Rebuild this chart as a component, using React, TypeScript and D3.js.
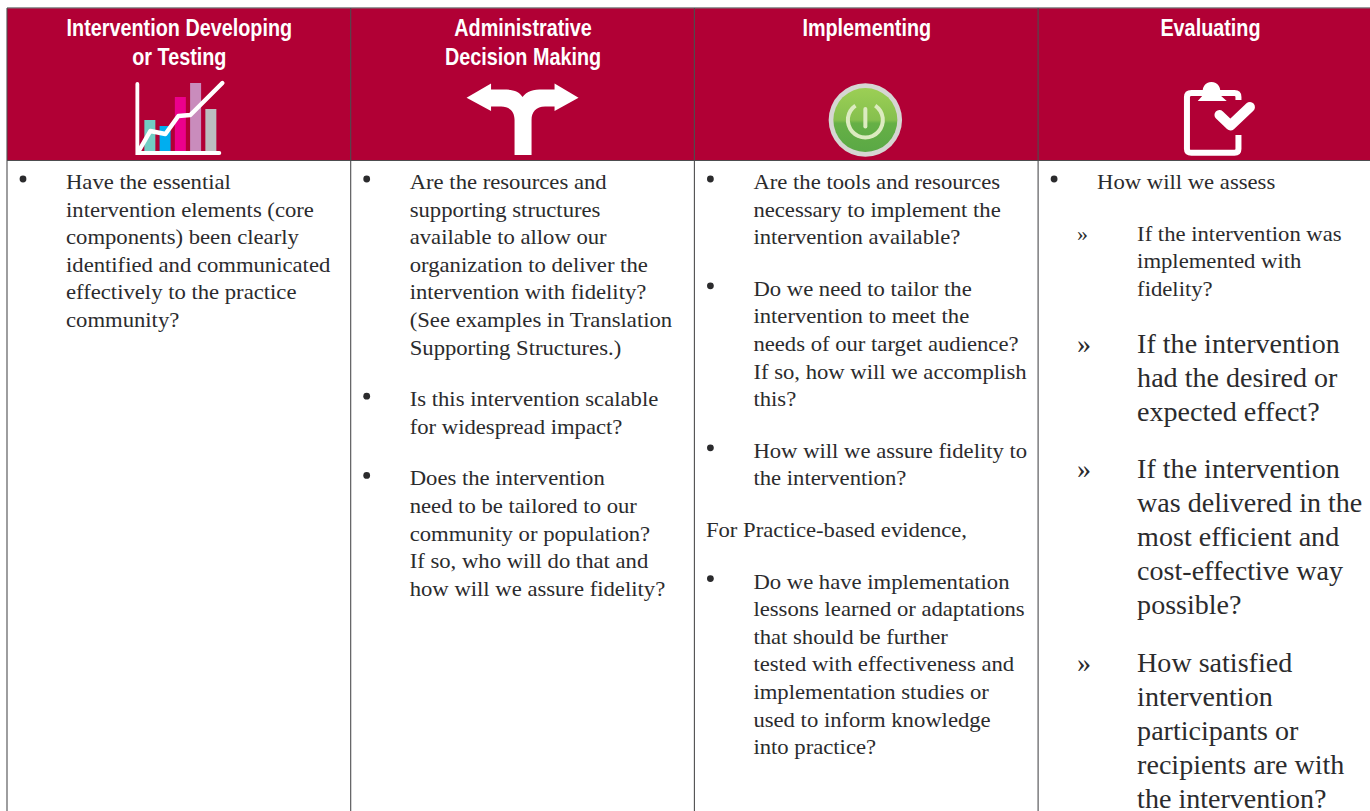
import React from "react";
import * as d3 from "d3";

const width = 1370, height = 811;

const headers = [
  ["Intervention Developing", "or Testing"],
  ["Administrative", "Decision Making"],
  ["Implementing"],
  ["Evaluating"],
];

// bullet = round bullet, plain = no marker, sub = small », big = large »
const col1 = [
  { kind: "bullet", lines: ["Have the essential", "intervention elements (core", "components) been clearly", "identified and communicated", "effectively to the practice", "community?"] },
];
const col2 = [
  { kind: "bullet", lines: ["Are the resources and", "supporting structures", "available to allow our", "organization to deliver the", "intervention with fidelity?", "(See examples in Translation", "Supporting Structures.)"] },
  { kind: "bullet", lines: ["Is this intervention scalable", "for widespread impact?"] },
  { kind: "bullet", lines: ["Does the intervention", "need to be tailored to our", "community or population?", "If so, who will do that and", "how will we assure fidelity?"] },
];
const col3 = [
  { kind: "bullet", lines: ["Are the tools and resources", "necessary to implement the", "intervention available?"] },
  { kind: "bullet", lines: ["Do we need to tailor the", "intervention to meet the", "needs of our target audience?", "If so, how will we accomplish", "this?"] },
  { kind: "bullet", lines: ["How will we assure fidelity to", "the intervention?"] },
  { kind: "plain", lines: ["For Practice-based evidence,"] },
  { kind: "bullet", lines: ["Do we have implementation", "lessons learned or adaptations", "that should be further", "tested with effectiveness and", "implementation studies or", "used to inform knowledge", "into practice?"] },
];
const col4 = [
  { kind: "bullet", lines: ["How will we assess"] },
  { kind: "sub", lines: ["If the intervention was", "implemented with", "fidelity?"] },
  { kind: "big", lines: ["If the intervention", "had the desired or", "expected effect?"] },
  { kind: "big", lines: ["If the intervention", "was delivered in the", "most efficient and", "cost-effective way", "possible?"] },
  { kind: "big", lines: ["How satisfied", "intervention", "participants or", "recipients are with", "the intervention?"] },
];
const columns = [col1, col2, col3, col4];

// small chart icon in the first header
const iconBars = [31, 25, 54, 68, 42];
const iconBarColors = ["#72cdc4", "#00aeef", "#ec008c", "#c98cbc", "#bcbec0"];
const iconLine = [1, 20, 17, 35, 36, 68];
const iconLineX = [0, 0.66, 1.57, 2.35, 3.07, 5];

const RED = "#b10035";
const LINE = "#4d4d4f";
const TEXT = "#2b2b2d";
const BODY_FONT = "'Liberation Serif', serif";

const styles: Record<string, any> = {
  bullet: { size: 21.5, stretch: 1.055, step: 27.6, gapAfter: 24 },
  plain: { size: 21.5, stretch: 1.055, step: 27.6, gapAfter: 24 },
  sub: { size: 21.5, stretch: 1.055, step: 27.8, gapAfter: 28.5 },
  big: { size: 27.8, stretch: 1.01, step: 34, gapAfter: 23.6 },
};

function Column({ blocks, x }: { blocks: any[]; x: number }) {
  let y = 189;
  const out: React.ReactNode[] = [];
  blocks.forEach((b, i) => {
    const s = styles[b.kind];
    const nested = b.kind === "sub" || b.kind === "big";
    const textX = nested ? x + 99 : b.kind === "plain" ? x + 11.5 : x + 59;
    if (b.kind === "bullet") out.push(<circle key={"m" + i} cx={x + 16} cy={y - 10} r={3.4} fill={TEXT} />);
    if (nested)
      out.push(<text key={"m" + i} x={x + 39} y={y} fontSize={b.kind === "big" ? 28 : 22} fill={TEXT}>»</text>);
    b.lines.forEach((l: string, j: number) => {
      out.push(
        <text key={i + "-" + j} transform={`translate(${textX},${y}) scale(${s.stretch},1)`} fontSize={s.size} fill={TEXT}>
          {l}
        </text>
      );
      y += s.step;
    });
    y += s.gapAfter;
  });
  return <g fontFamily={BODY_FONT}>{out}</g>;
}

function ChartIcon({ cx }: { cx: number }) {
  const x = d3.scaleBand<number>().domain(d3.range(iconBars.length)).range([cx - 35, cx + 37]).paddingInner(0.279);
  const y = d3.scaleLinear().domain([0, 68]).range([151, 83]);
  const lineX = d3.scaleLinear().domain([0, 5]).range([cx - 40, cx + 43]);
  const path = d3.line<number>().x((_, i) => lineX(iconLineX[i])).y((d) => y(d))(iconLine);
  return (
    <g>
      {iconBars.map((v, i) => (
        <rect key={i} x={x(i)} y={y(v)} width={x.bandwidth()} height={151 - y(v)} fill={iconBarColors[i]} />
      ))}
      <path d={path!} fill="none" stroke="#fff" strokeWidth={4.4} strokeLinecap="round" strokeLinejoin="round" />
      <path d={`M${cx - 42},84V153H${cx + 40}`} fill="none" stroke="#fff" strokeWidth={3.8} strokeLinecap="round" />
    </g>
  );
}

function ArrowIcon({ cx }: { cx: number }) {
  return (
    <path
      transform={`translate(${cx},0)`}
      fill="#fff"
      d="M-56.5,97.7L-32,83.4V89.5H-20C-10,89.5 -4,91 -0.5,97C4,91 10,89.5 20,89.5H31.5V83.4L55.5,97.7L31.5,111V106.5H22C13,106.5 8.5,112 8.5,120V155H-8.5V120C-8.5,112 -13,106.5 -22,106.5H-32V111Z"
    />
  );
}

function PowerIcon({ cx }: { cx: number }) {
  const cy = 120;
  const arc = d3.arc()({ innerRadius: 15.5, outerRadius: 19.5, startAngle: 0.6, endAngle: 2 * Math.PI - 0.6 });
  return (
    <g transform="translate(-1.4,0)">
      <defs>
        <linearGradient id="pw" x1="0" x2="0" y1="0" y2="1">
          <stop offset="0" stopColor="#9ccf55" />
          <stop offset="0.5" stopColor="#86c04e" />
          <stop offset="0.55" stopColor="#66b046" />
          <stop offset="1" stopColor="#5aa845" />
        </linearGradient>
      </defs>
      <circle cx={cx} cy={cy} r={36.7} fill="#d6d6d2" />
      <circle cx={cx} cy={cy} r={32} fill="url(#pw)" />
      <path d={arc!} transform={`translate(${cx},${cy})`} fill="#dcebc0" />
      <line x1={cx} x2={cx} y1={109} y2={126.5} stroke="#dcebc0" strokeWidth={4} strokeLinecap="round" />
    </g>
  );
}

function ClipboardIcon({ cx }: { cx: number }) {
  return (
    <g>
      <path
        d={`M${cx + 28},100V97Q${cx + 28},93 ${cx + 24},93H${cx - 19}Q${cx - 23.5},93 ${cx - 23.5},97V149Q${cx - 23.5},152.7 ${cx - 19},152.7H${cx + 24}Q${cx + 28},152.7 ${cx + 28},149V135`}
        fill="none" stroke="#fff" strokeWidth={6}
      />
      <path fill="#fff" d={`M${cx - 12.7},101L${cx - 7},94.5A8.8,8.8 0 1 1 ${cx + 9},94.5L${cx + 16.3},101Z`} />
      <path d={`M${cx + 9},115L${cx + 20},125.5L${cx + 39.5},107`} fill="none" stroke="#fff" strokeWidth={10} strokeLinecap="round" strokeLinejoin="round" />
    </g>
  );
}

const icons = [ChartIcon, ArrowIcon, PowerIcon, ClipboardIcon];

export default function App() {
  const x = d3.scaleBand<number>().domain(d3.range(4)).range([7, 7 + 343.7 * 4]);
  return (
    <svg width={width} height={height} style={{ position: "absolute", left: 0, top: 0, display: "block", background: "#fff" }}>
      <rect x={7} y={8} width={width - 7} height={152.5} fill={RED} />
      <line x1={7} x2={width} y1={7.8} y2={7.8} stroke="#77787b" strokeWidth={1.2} />
      <line x1={7} x2={width} y1={160.5} y2={160.5} stroke={LINE} strokeWidth={1.2} />
      {headers.map((_, i) => (
        <line key={i} x1={x(i)!} x2={x(i)!} y1={8} y2={height} stroke={LINE} strokeWidth={1.1} />
      ))}
      {headers.map((h, i) => {
        const cx = x(i)! + x.bandwidth() / 2 + 0.5;
        const Icon = icons[i];
        return (
          <g key={i}>
            {h.map((l, j) => (
              <text key={j} transform={`translate(${cx},${36 + j * 29}) scale(0.843,1)`} textAnchor="middle" fill="#fff"
                fontSize={23.5} fontWeight="bold" fontFamily="'Liberation Sans', sans-serif">
                {l}
              </text>
            ))}
            <Icon cx={cx} />
          </g>
        );
      })}
      {columns.map((c, i) => (
        <Column key={i} blocks={c} x={x(i)!} />
      ))}
    </svg>
  );
}
